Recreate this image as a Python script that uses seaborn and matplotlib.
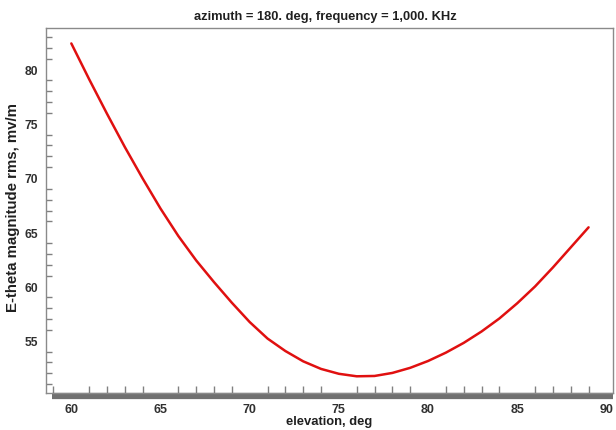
import numpy as np
import pandas as pd
import seaborn as sns
import matplotlib
matplotlib.use("Agg")
import matplotlib.pyplot as plt
from matplotlib.ticker import MultipleLocator

elevation = [60, 61, 62, 63, 64, 65, 66, 67, 68, 69,
             70, 71, 72, 73, 74, 75, 76, 77, 78, 79,
             80, 81, 82, 83, 84, 85, 86, 87, 88, 89]
e_theta = [82.40, 79.10, 75.92, 72.85, 69.95, 67.18, 64.65, 62.40, 60.40, 58.50,
           56.72, 55.20, 54.05, 53.10, 52.40, 51.95, 51.72, 51.75, 52.03, 52.50,
           53.13, 53.90, 54.80, 55.85, 57.05, 58.45, 60.00, 61.75, 63.60, 65.45]

title = "azimuth = 180. deg, frequency = 1,000. KHz"
xlabel = "elevation, deg"
ylabel = "E-theta magnitude rms, mv/m"
xticks = [60, 65, 70, 75, 80, 85, 90]
yticks = [55, 60, 65, 70, 75, 80]

df = pd.DataFrame({"elevation": elevation, "value": e_theta})

sns.set_style("white")
plt.rcParams['font.family'] = ['Liberation Sans', 'DejaVu Sans']
plt.rcParams['font.weight'] = 'bold'

fig = plt.figure(figsize=(6.16, 4.31), dpi=100)
ax = fig.add_axes([46/616, 1-394/431, (613-46)/616, (394-28.5)/431])

sns.lineplot(data=df, x="elevation", y="value", ax=ax, color="#e01010", linewidth=1.8)

ax.set_xlim(58.58, 90.37)
ax.set_ylim(50.18, 83.87)
ax.set_xticks(xticks)
ax.set_yticks(yticks)
ax.xaxis.set_minor_locator(MultipleLocator(1))
ax.yaxis.set_minor_locator(MultipleLocator(1))

for side in ["left", "top", "right", "bottom"]:
    ax.spines[side].set_color("#8a8a8a")
    ax.spines[side].set_linewidth(1.0)

# thick shadow bar under the x axis
ax.plot([0.01, 1.0], [-0.008, -0.008], transform=ax.transAxes, color="#707070",
        linewidth=4.5, clip_on=False, solid_capstyle="butt")

ax.tick_params(axis="x", which="major", direction="inout", length=9, width=1.0,
               color="#606060", labelsize=9, labelcolor="#303030", pad=3)
ax.tick_params(axis="x", which="minor", direction="in", length=5, width=1.0,
               color="#808080", bottom=True)
ax.tick_params(axis="y", which="major", direction="inout", length=8, width=1.0,
               color="#808080", labelsize=8.7, labelcolor="#303030", pad=2)
ax.tick_params(axis="y", which="minor", direction="in", length=4, width=1.0,
               color="#808080", left=True)

for lab in ax.get_xticklabels() + ax.get_yticklabels():
    lab.set_fontweight("bold")

ax.set_xlabel(xlabel, fontsize=9.4, fontweight="bold", color="#202020", labelpad=0)
ax.set_ylabel(ylabel, fontsize=10.8, fontweight="bold", color="#202020", labelpad=3)
ax.yaxis.set_label_coords(-0.045, 0.51)
ax.set_title(title, fontsize=9.3, fontweight="bold", color="#202020", pad=6, x=0.493)

fig.savefig("out.png", dpi=100, facecolor="white")
